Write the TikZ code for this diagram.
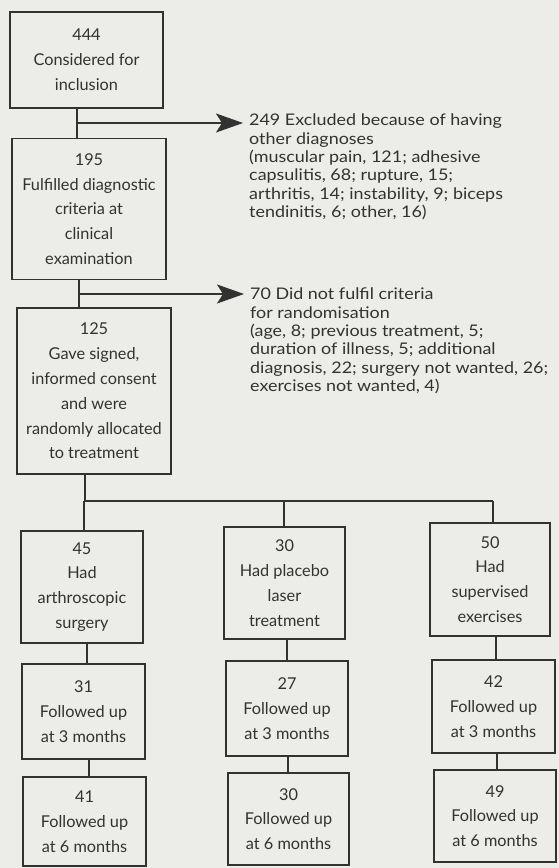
\documentclass[tikz,border=0pt]{standalone}
\usepackage{fontspec}
\setmainfont{Lato}
\newfontfamily\notefont[FakeStretch=1.12]{Lato}
\usetikzlibrary{arrows.meta}
\definecolor{bg}{RGB}{236,236,233}
\definecolor{ink}{RGB}{50,50,50}
\tikzset{
  box/.style={draw=ink, line width=1.4pt, fill=bg, inner sep=0pt, align=center,
    text=ink, font=\fontsize{16.3}{24.8}\selectfont},
  note/.style={inner sep=0pt, align=left, anchor=north west, text=ink,
    font=\notefont\fontsize{16}{18.3}\selectfont},
  link/.style={draw=ink, line width=1.7pt},
  arr/.style={link, -{Stealth[length=27pt, width=19pt, inset=6pt]}}
}
\begin{document}
\begin{tikzpicture}[x=1pt,y=-1pt]
\fill[bg] (0,0) rectangle (559,868);
\useasboundingbox (0,0) rectangle (559,868);
% top chain
\node[box, minimum width=153pt, minimum height=96pt] (b1) at (86.5,60) {444\\Considered for\\inclusion};
\node[box, minimum width=154pt, minimum height=141pt] (b2) at (89,209) {195\\Fulfilled diagnostic\\criteria at\\clinical\\examination};
\node[box, minimum width=154pt, minimum height=166pt] (b3) at (94,391) {125\\Gave signed,\\informed consent\\and were\\randomly allocated\\to treatment};
% side notes
\node[note] (n1) at (249,114) {249 Excluded because of having\\other diagnoses\\(muscular pain, 121; adhesive\\capsulitis, 68; rupture, 15;\\arthritis, 14; instability, 9; biceps\\tendinitis, 6; other, 16)};
\node[note] (n2) at (250,288) {70 Did not fulfil criteria\\for randomisation\\(age, 8; previous treatment, 5;\\duration of illness, 5; additional\\diagnosis, 22; surgery not wanted, 26;\\exercises not wanted, 4)};
% columns
\node[box, minimum width=122pt, minimum height=112pt] (c1a) at (82,587) {45\\Had\\arthroscopic\\surgery};
\node[box, minimum width=123pt, minimum height=95pt] (c1b) at (83.5,711.5) {31\\Followed up\\at 3 months};
\node[box, minimum width=123pt, minimum height=89pt] (c1c) at (84.5,821.5) {41\\Followed up\\at 6 months};
\node[box, minimum width=121pt, minimum height=112pt] (c2a) at (284.5,583) {30\\Had placebo\\laser\\treatment};
\node[box, minimum width=122pt, minimum height=95pt] (c2b) at (287,708.5) {27\\Followed up\\at 3 months};
\node[box, minimum width=121pt, minimum height=92pt] (c2c) at (288.5,819) {30\\Followed up\\at 6 months};
\node[box, minimum width=120pt, minimum height=113pt] (c3a) at (490,579.5) {50\\Had\\supervised\\exercises};
\node[box, minimum width=123pt, minimum height=93pt] (c3b) at (493.5,706.5) {42\\Followed up\\at 3 months};
\node[box, minimum width=122pt, minimum height=92pt] (c3c) at (495,816) {49\\Followed up\\at 6 months};
% helper coordinates
\coordinate (j1) at (77,123);
\coordinate (t1) at (243,123);
\coordinate (j2) at (79,294);
\coordinate (t2) at (244,294);
\coordinate (j3) at (85,501);
\coordinate (k1) at (84,501);
\coordinate (k2) at (284,501);
\coordinate (k3) at (493,501);
\coordinate (x1) at (87,0);
\coordinate (x1b) at (89,0);
\coordinate (x2) at (287,0);
\coordinate (x2b) at (288,0);
\coordinate (x3) at (496,0);
\coordinate (x3b) at (497,0);
% connectors
\draw[link] (j1 |- b1.south) -- (j1 |- b2.north);
\draw[arr] (j1) -- (t1);
\draw[link] (j2 |- b2.south) -- (j2 |- b3.north);
\draw[arr] (j2) -- (t2);
\draw[link] (j3 |- b3.south) -- (j3);
\draw[link] (k1) -- (k3);
\draw[link] (k1) -- (k1 |- c1a.north);
\draw[link] (k2) -- (k2 |- c2a.north);
\draw[link] (k3) -- (k3 |- c3a.north);
\draw[link] (x1 |- c1a.south) -- (x1 |- c1b.north);
\draw[link] (x1b |- c1b.south) -- (x1b |- c1c.north);
\draw[link] (x2 |- c2a.south) -- (x2 |- c2b.north);
\draw[link] (x2b |- c2b.south) -- (x2b |- c2c.north);
\draw[link] (x3 |- c3a.south) -- (x3 |- c3b.north);
\draw[link] (x3b |- c3b.south) -- (x3b |- c3c.north);
\end{tikzpicture}
\end{document}
